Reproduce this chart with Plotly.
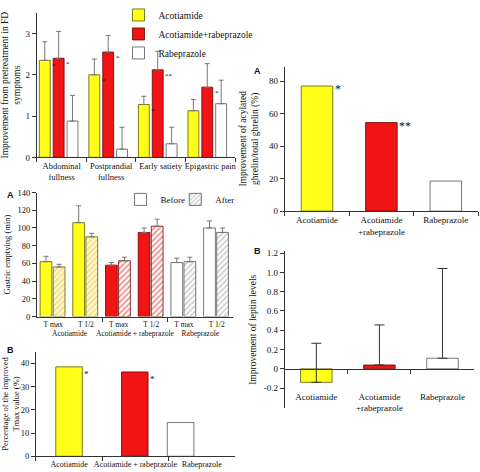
import plotly.graph_objects as go

W, H = 480, 472

# ---- values ----
symptoms = ["Abdominal<br>fullness", "Postprandial<br>fullness", "Early satiety", "Epigastric pain"]
drugs = ["Acotiamide", "Acotiamide+rabeprazole", "Rabeprazole"]
symp_acot = [2.35, 2.0, 1.28, 1.13]
symp_acot_err = [0.45, 0.38, 0.2, 0.27]
symp_combo = [2.4, 2.55, 2.12, 1.7]
symp_combo_err = [0.65, 0.4, 0.45, 0.57]
symp_rabe = [0.88, 0.2, 0.33, 1.3]
symp_rabe_err = [0.62, 0.53, 0.4, 0.57]
symp_acot_sig = ["*", "*", "*", ""]
symp_combo_sig = ["*", "*", "**", "*"]

ge_drugs = ["Acotiamide", "Acotiamide + rabeprazole", "Rabeprazole"]
ge_params = ["T max", "T 1/2"]
ge_before = [62, 106, 58, 95, 61, 100]
ge_before_err = [6, 19, 3, 5, 5, 8]
ge_after = [56, 90, 63, 102, 62, 95]
ge_after_err = [3, 4, 4, 8, 5, 5]

tmax_groups = ["Acotiamide", "Acotiamide + rabeprazole", "Rabeprazole"]
tmax_pct = [38.5, 36.3, 14.5]
tmax_sig = ["*", "*", ""]

ghrelin_groups = ["Acotiamide", "Acotiamide<br>+rabeprazole", "Rabeprazole"]
ghrelin_pct = [77, 54.5, 18.5]
ghrelin_sig = ["*", "**", ""]

leptin_groups = ["Acotiamide", "Acotiamide<br>+rabeprazole", "Rabeprazole"]
leptin = [-0.14, 0.04, 0.11]
leptin_err = [0.405, 0.415, 0.93]

# ---- styling ----
fills = ["#ffff1a", "#f01414", "#ffffff"]
edges = ["#5a5a00", "#6a0000", "#555555"]
hatch = ["#e8b818", "#e01010", "#9a9a9a"]
hatch_bg = ["#fffbd8", "#ffffff", "#ffffff"]
SERIF = "Liberation Serif"
AX = "#333333"
TXT = "#111111"


def xdom(a, b):
    return [a / W, b / W]


def ydom(top, bottom):
    return [1 - bottom / H, 1 - top / H]


def sfont(size):
    return dict(family=SERIF, size=size, color=TXT)


def up_err(errs, color="#777777", cap=2.5):
    return dict(type="data", array=errs, symmetric=False, arrayminus=[0] * len(errs),
                color=color, thickness=1, width=cap)


fig = go.Figure()

# panel 1: symptom improvement
p1_off = [-0.45, -0.17, 0.11]
p1_w = 0.22
p1_vals = [symp_acot, symp_combo, symp_rabe]
p1_errs = [symp_acot_err, symp_combo_err, symp_rabe_err]
for k, name in enumerate(drugs):
    fig.add_bar(x=symptoms, y=p1_vals[k], name=name, offset=p1_off[k], width=p1_w,
                marker=dict(color=fills[k], line=dict(color=edges[k], width=0.8)),
                error_y=up_err(p1_errs[k]), xaxis="x", yaxis="y", legend="legend")

# panel 2: gastric emptying before / after
n_p = len(ge_params)
for d in range(len(ge_drugs)):
    xs = list(range(d * n_p, (d + 1) * n_p))
    fig.add_bar(x=xs, y=ge_before[d * n_p:(d + 1) * n_p], offset=-0.4, width=0.36,
                name="Before", showlegend=(d == 2), legend="legend2",
                marker=dict(color=fills[d], line=dict(color=edges[d], width=0.8)),
                error_y=up_err(ge_before_err[d * n_p:(d + 1) * n_p]),
                xaxis="x2", yaxis="y2")
    fig.add_bar(x=xs, y=ge_after[d * n_p:(d + 1) * n_p], offset=0.0, width=0.36,
                name="After", showlegend=(d == 2), legend="legend3",
                marker=dict(color=hatch_bg[d], line=dict(color=edges[d], width=0.8),
                            pattern=dict(shape="/", fgcolor=hatch[d], bgcolor=hatch_bg[d],
                                         size=4, solidity=0.4)),
                error_y=up_err(ge_after_err[d * n_p:(d + 1) * n_p]),
                xaxis="x2", yaxis="y2")

# panel 3: improved Tmax
p3_off = [-0.2, -0.21, -0.52]
fig.add_bar(x=tmax_groups, y=tmax_pct, offset=p3_off, width=0.4, showlegend=False,
            marker=dict(color=fills, line=dict(color=edges, width=0.8)),
            xaxis="x3", yaxis="y3")

# panel 4: ghrelin
fig.add_bar(x=ghrelin_groups, y=ghrelin_pct, width=0.49, showlegend=False,
            marker=dict(color=fills, line=dict(color=edges, width=0.8)),
            xaxis="x4", yaxis="y4")

# panel 5: leptin
fig.add_bar(x=leptin_groups, y=leptin, width=0.5, showlegend=False,
            marker=dict(color=fills, line=dict(color=edges, width=0.8)),
            error_y=up_err(leptin_err, color="#333333", cap=5),
            xaxis="x5", yaxis="y5")

# significance marks
ann = []
for i, s in enumerate(symp_acot_sig):
    if s:
        ann.append(dict(x=i + p1_off[0] + p1_w, y=symp_acot[i], text=s, xref="x", yref="y",
                        xanchor="left", yanchor="top", showarrow=False, font=sfont(7)))
for i, s in enumerate(symp_combo_sig):
    if s:
        ann.append(dict(x=i + p1_off[1] + p1_w, y=symp_combo[i], text=s, xref="x", yref="y",
                        xanchor="left", yanchor="top", showarrow=False, font=sfont(7)))
for i, s in enumerate(tmax_sig):
    if s:
        ann.append(dict(x=i + p3_off[i] + 0.4, y=tmax_pct[i], text=s, xref="x3", yref="y3",
                        xanchor="left", yanchor="top", showarrow=False, font=sfont(9)))
for i, s in enumerate(ghrelin_sig):
    if s:
        ann.append(dict(x=i + 0.245, y=ghrelin_pct[i], text=s, xref="x4", yref="y4",
                        xanchor="left", yanchor="middle", yshift=-3, showarrow=False,
                        font=sfont(12)))

# panel letters
for txt, px, py in [("A", 4, 193), ("B", 4, 352), ("A", 252, 67), ("B", 252, 251)]:
    ann.append(dict(x=px / W, y=1 - py / H, xref="paper", yref="paper", text="<b>%s</b>" % txt,
                    showarrow=False, xanchor="left", yanchor="middle",
                    font=dict(family="Liberation Sans", size=9, color=TXT)))

axis_common = dict(showline=True, linecolor=AX, linewidth=1, ticks="outside", ticklen=4,
                   tickcolor=AX, showgrid=False, zeroline=False, tickfont=sfont(9),
                   tickangle=0)

# panel 5 x-axis sits at y = 0
y5_range = [-0.41, 1.22]
y5_dom = ydom(251, 412)
zero_pos = y5_dom[0] + (0 - y5_range[0]) / (y5_range[1] - y5_range[0]) * (y5_dom[1] - y5_dom[0])

# drug names sit on a second label row under each T max / T 1/2 pair
ge_tickvals = list(range(len(ge_before))) + [d * n_p + (n_p - 1) / 2 for d in range(len(ge_drugs))]
ge_ticktext = ge_params * len(ge_drugs) + ["<br>" + d for d in ge_drugs]

leg_common = dict(xanchor="left", yanchor="middle", font=sfont(9),
                  bgcolor="rgba(0,0,0,0)", itemwidth=30)

fig.update_layout(
    width=W, height=H, margin=dict(l=0, r=0, t=0, b=0),
    paper_bgcolor="white", plot_bgcolor="white", barmode="overlay",
    font=sfont(9),
    annotations=ann,
    legend=dict(x=118 / W, y=1.012, xanchor="left", yanchor="top", font=sfont(9.5),
                bgcolor="rgba(0,0,0,0)", tracegroupgap=0, itemwidth=30),
    legend2=dict(leg_common, x=120 / W, y=1 - 198 / H),
    legend3=dict(leg_common, x=175 / W, y=1 - 198 / H),
    xaxis=dict(axis_common, domain=xdom(36, 235), anchor="y", type="category",
               range=[-0.5, len(symptoms) - 0.5], tickson="boundaries", tickfont=sfont(8.5)),
    yaxis=dict(axis_common, domain=ydom(7, 155), anchor="x", range=[0, 3.5],
               tickvals=[0, 1, 2, 3],
               title=dict(text="Improvement from pretreatment in FD<br>symptoms",
                          font=sfont(9.5), standoff=4)),
    xaxis2=dict(axis_common, domain=xdom(36, 233), anchor="y2",
                range=[-0.5, len(ge_before) - 0.5], tickvals=ge_tickvals, ticktext=ge_ticktext,
                ticks="", tickfont=sfont(7.5),
                minor=dict(tickvals=[(d + 1) * n_p - 0.5 for d in range(len(ge_drugs) - 1)],
                           ticks="outside", ticklen=4, tickcolor=AX)),
    yaxis2=dict(axis_common, domain=ydom(191, 318), anchor="x2", range=[0, 140], dtick=20,
                tickfont=sfont(8.5),
                title=dict(text="Gastric emptying (min)", font=sfont(8.5), standoff=5)),
    xaxis3=dict(axis_common, domain=xdom(35, 235), anchor="y3", type="category",
                range=[-0.5, 2.5], tickson="boundaries", tickfont=sfont(8)),
    yaxis3=dict(axis_common, domain=ydom(354, 461), anchor="x3", range=[0, 45],
                tickvals=[0, 10, 20, 30, 40], tickfont=sfont(8.5),
                title=dict(text="Percentage of the improved<br>Tmax value (%)",
                           font=sfont(8.5), standoff=4)),
    xaxis4=dict(axis_common, domain=xdom(285, 479), anchor="y4", type="category",
                range=[-0.5, 2.5], tickson="boundaries"),
    yaxis4=dict(axis_common, domain=ydom(62, 210), anchor="x4", range=[0, 89],
                tickvals=[0, 20, 40, 60, 80],
                title=dict(text="Improvement of acylated<br>ghrelin/total ghrelin (%)",
                           font=sfont(9.5), standoff=8)),
    xaxis5=dict(axis_common, domain=xdom(285, 475), anchor="free", position=zero_pos,
                type="category", range=[-0.5, 2.5], tickson="boundaries",
                ticklabelstandoff=19),
    yaxis5=dict(axis_common, domain=y5_dom, anchor="x5", range=y5_range,
                tickvals=[-0.2, 0, 0.2, 0.4, 0.6, 0.8, 1.0, 1.2],
                ticktext=["-0.2", "0", "0.2", "0.4", "0.6", "0.8", "1.0", "1.2"],
                title=dict(text="Improvement of leptin levels", font=sfont(9.5), standoff=5)),
)

# drop the default page margin so the figure starts at the window corner
fig.write_html("out.html", config={"displayModeBar": False},
               post_script="document.body.style.margin='0px';")
